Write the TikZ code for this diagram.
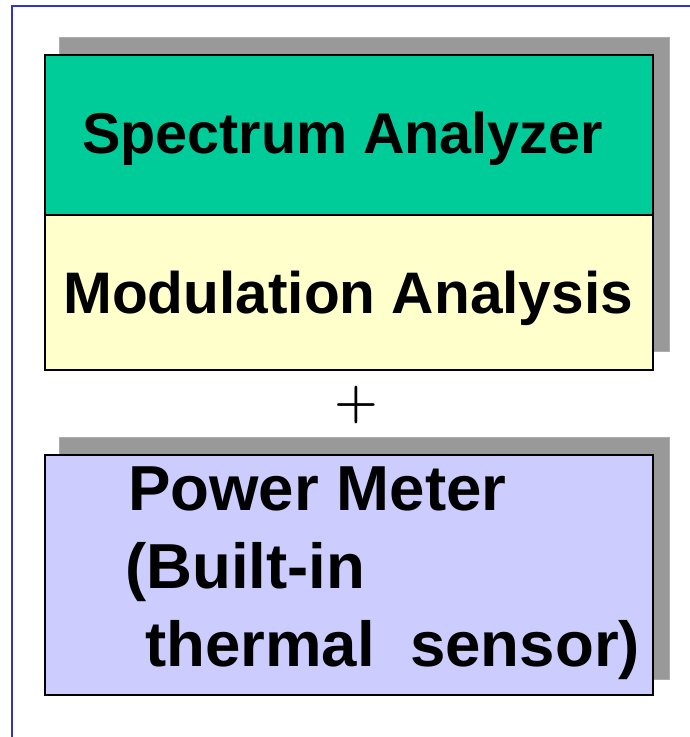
\documentclass[tikz,border=0pt]{standalone}
\usepackage{fontspec}
\setmainfont{Liberation Sans}
\newfontfamily\lmplus{Latin Modern Roman}
\definecolor{specgreen}{RGB}{0,204,153}
\definecolor{modyellow}{RGB}{255,255,204}
\definecolor{pmlav}{RGB}{204,204,255}
\definecolor{shadowgray}{RGB}{153,153,153}
\definecolor{framblue}{RGB}{51,51,204}
\begin{document}
\begin{tikzpicture}[x=1pt,y=-1pt,
  panel/.style={draw=black,line width=2pt,rectangle,inner sep=0pt,anchor=north west,minimum width=608pt},
  shadowbox/.style={fill=shadowgray,draw=shadowgray!80!white,line width=0.6pt},
  bigtext/.style={anchor=base west,inner sep=0pt,font=\bfseries\fontsize{57.5}{68}\selectfont},
  pmtext/.style={anchor=base west,inner sep=0pt,font=\bfseries\fontsize{63.6}{78}\selectfont}]
\useasboundingbox (0,0) rectangle (690,737);
% blue frame
\coordinate (fb) at (12,737);
\coordinate (fc) at (12,6);
\coordinate (fr) at (690,6);
\draw[framblue,line width=1.6pt] (fb) -- (fc) -- (fr);
% shadows
\fill[shadowbox] (59,37) rectangle (669,351);
\fill[shadowbox] (59,437) rectangle (669,679);
% upper boxes
\node[panel,fill=specgreen,minimum height=160pt] (spec) at (44,54) {};
\node[panel,fill=modyellow,minimum height=155pt] (mod) at (44,214) {};
% lower box
\node[panel,fill=pmlav,minimum height=240pt] (pm) at (44,454) {};
% texts
\node[bigtext] (t1) at (82,153) {Spectrum Analyzer};
\node[bigtext,font=\bfseries\fontsize{58.6}{68}\selectfont] (t2) at (63,313) {Modulation Analysis};
\node[inner sep=0pt,font=\lmplus\bfseries\fontsize{50}{56}\selectfont] (plus) at (356,405) {+};
\node[pmtext] (t3) at (128,510) {Power Meter};
\node[pmtext] (t4) at (125,588) {(Built-in};
\node[pmtext] (t5) at (145,666) {thermal\ \ sensor)};
\end{tikzpicture}
\end{document}
